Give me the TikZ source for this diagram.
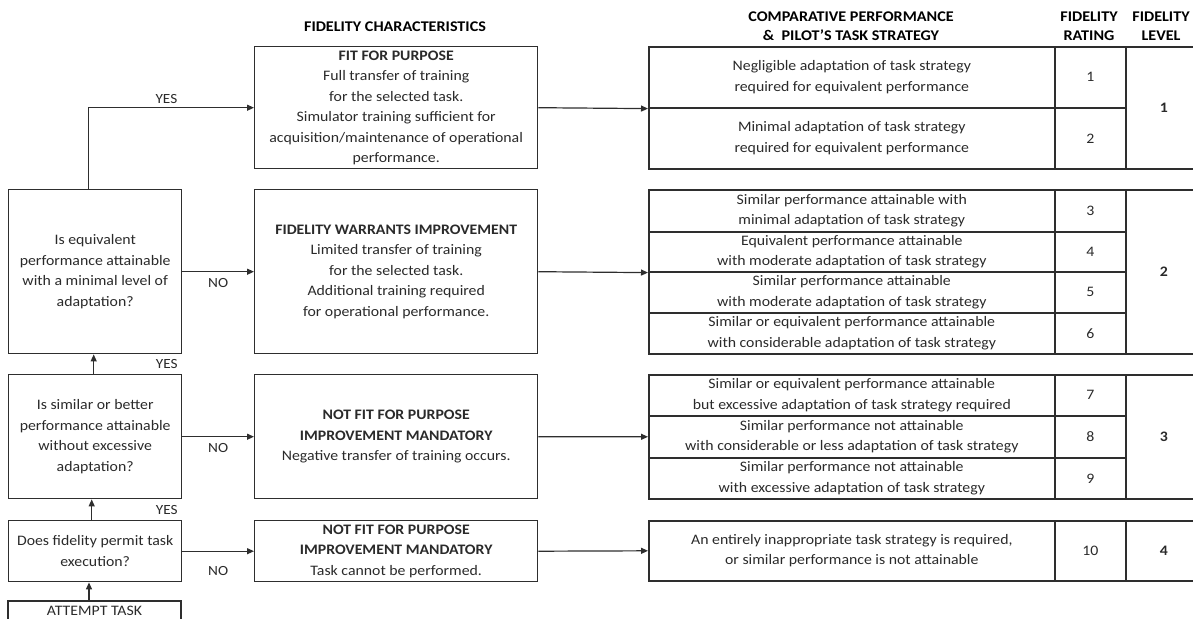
\documentclass[tikz,border=0pt]{standalone}
\usepackage{fontspec}
\setmainfont{Carlito}[FakeStretch=1.09]
\usetikzlibrary{arrows.meta}
\definecolor{linec}{HTML}{2E2E2E}
\definecolor{txt}{HTML}{2A2A2A}
\newcommand{\fsbody}{\fontsize{14.5}{20.5}\selectfont}
\newcommand{\fshead}{\fontsize{14.8}{19}\selectfont\bfseries}
\tikzset{
  box/.style={draw=linec, line width=1.4pt, align=center, anchor=north west, inner sep=0pt, text=txt, font=\fsbody},
  cellbox/.style={draw=linec, line width=1.6pt, align=center, anchor=north west, inner sep=0pt, text=txt, font=\fsbody},
  head/.style={align=center, text=black, font=\fshead, inner sep=0pt},
  lbl/.style={text=txt, font=\fontsize{14}{15}\selectfont, inner sep=0pt},
  arr/.style={-{Triangle[length=7pt,width=6pt]}, line width=1.2pt, draw=linec}
}
\begin{document}
\begin{tikzpicture}[x=1pt,y=-1pt]
\useasboundingbox (0,0) rectangle (1193,618);
\clip (0,0) rectangle (1193,618);
% headers
\node[head] (h1) at (395,27) {FIDELITY CHARACTERISTICS};
\node[head] (h2) at (851,26) {COMPARATIVE PERFORMANCE\\\&~~PILOT'S TASK STRATEGY};
\node[head] (h3) at (1089,26) {FIDELITY\\RATING};
\node[head] (h4) at (1161,26) {FIDELITY\\LEVEL};
% left column
\node[box, minimum width=173, minimum height=164] (q1) at (8,189) {Is equivalent\\performance attainable\\with a minimal level of\\adaptation?};
\node[box, minimum width=173, minimum height=124] (q2) at (8,374) {Is similar or better\\performance attainable\\without excessive\\adaptation?};
\node[box, minimum width=173, minimum height=61] (q3) at (8,520) {Does fidelity permit task\\execution?};
% attempt task box (cut by the lower edge)
\draw[draw=linec, line width=1.4pt] (8,625) |- (181,601) -- (181,625);
\coordinate (attop) at (89,601);
\node[text=txt, font=\fsbody, inner sep=0pt] (at) at (94.5,610.5) {ATTEMPT TASK};
% middle column
\node[box, minimum width=283, minimum height=122] (m1) at (254,46) {\textbf{FIT FOR PURPOSE}\\Full transfer of training\\for the selected task.\\Simulator training sufficient for\\acquisition/maintenance of operational\\performance.};
\node[box, minimum width=283, minimum height=164] (m2) at (254,189) {\textbf{FIDELITY WARRANTS IMPROVEMENT}\\Limited transfer of training\\for the selected task.\\Additional training required\\for operational performance.};
\node[box, minimum width=283, minimum height=124] (m3) at (254,374) {\textbf{NOT FIT FOR PURPOSE}\\\textbf{IMPROVEMENT MANDATORY}\\Negative transfer of training occurs.};
\node[box, minimum width=283, minimum height=61] (m4) at (254,520) {\textbf{NOT FIT FOR PURPOSE}\\\textbf{IMPROVEMENT MANDATORY}\\Task cannot be performed.};
% right table: description cells
\node[cellbox, minimum width=406, minimum height=61] (c1) at (648,46) {Negligible adaptation of task strategy\\required for equivalent performance};
\node[cellbox, minimum width=406, minimum height=61] (c2) at (648,107) {Minimal adaptation of task strategy\\required for equivalent performance};
\node[cellbox, minimum width=406, minimum height=42] (c3) at (648,189) {Similar performance attainable with\\minimal adaptation of task strategy};
\node[cellbox, minimum width=406, minimum height=40] (c4) at (648,231) {Equivalent performance attainable\\with moderate adaptation of task strategy};
\node[cellbox, minimum width=406, minimum height=41] (c5) at (648,271) {Similar performance attainable\\with moderate adaptation of task strategy};
\node[cellbox, minimum width=406, minimum height=41] (c6) at (648,312) {Similar or equivalent performance attainable\\with considerable adaptation of task strategy};
\node[cellbox, minimum width=406, minimum height=41] (c7) at (648,374) {Similar or equivalent performance attainable\\but excessive adaptation of task strategy required};
\node[cellbox, minimum width=406, minimum height=42] (c8) at (648,415) {Similar performance not attainable\\with considerable or less adaptation of task strategy};
\node[cellbox, minimum width=406, minimum height=41] (c9) at (648,457) {Similar performance not attainable\\with excessive adaptation of task strategy};
\node[cellbox, minimum width=406, minimum height=60] (c10) at (648,520) {An entirely inappropriate task strategy is required,\\or similar performance is not attainable};
% rating cells
\node[cellbox, minimum width=71, minimum height=61] (r1) at (1054,46) {1};
\node[cellbox, minimum width=71, minimum height=61] (r2) at (1054,107) {2};
\node[cellbox, minimum width=71, minimum height=42] (r3) at (1054,189) {3};
\node[cellbox, minimum width=71, minimum height=40] (r4) at (1054,231) {4};
\node[cellbox, minimum width=71, minimum height=41] (r5) at (1054,271) {5};
\node[cellbox, minimum width=71, minimum height=41] (r6) at (1054,312) {6};
\node[cellbox, minimum width=71, minimum height=41] (r7) at (1054,374) {7};
\node[cellbox, minimum width=71, minimum height=42] (r8) at (1054,415) {8};
\node[cellbox, minimum width=71, minimum height=41] (r9) at (1054,457) {9};
\node[cellbox, minimum width=71, minimum height=60] (r10) at (1054,520) {10};
% level cells
\node[cellbox, minimum width=76, minimum height=122, font=\fsbody\bfseries] (l1) at (1125,46) {1};
\node[cellbox, minimum width=76, minimum height=164, font=\fsbody\bfseries] (l2) at (1125,189) {2};
\node[cellbox, minimum width=76, minimum height=124, font=\fsbody\bfseries] (l3) at (1125,374) {3};
\node[cellbox, minimum width=76, minimum height=60, font=\fsbody\bfseries] (l4) at (1125,520) {4};
% connectors left column
\draw[arr] ([xshift=-6.5]q1.north) |- (m1.west) node[lbl, pos=0.735, above=4pt] (yes1) {YES};
\draw[arr] ([xshift=-1.5]q2.north) -- ([xshift=-1.5]q1.south) node[lbl, pos=0.5, xshift=73] (yes2) {YES};
\draw[arr] ([xshift=-3.5]q3.north) -- ([xshift=-3.5]q2.south) node[lbl, pos=0.5, xshift=75] (yes3) {YES};
\draw[arr] (attop) -- (attop |- q3.south);
\draw[arr] (q1.east) -- (m2.west) node[lbl, midway, below=6pt] (no1) {NO};
\draw[arr] (q2.east) -- (m3.west) node[lbl, midway, below=6pt] (no2) {NO};
\draw[arr] (q3.east) -- (m4.west) node[lbl, midway, below=15pt] (no3) {NO};
% connectors middle to table
\draw[arr] (m1.east) -- (c1.south west);
\draw[arr] (m2.east) -- (c4.south west);
\draw[arr] (m3.east) -- (c8.west);
\draw[arr] (m4.east) -- (c10.west);
\end{tikzpicture}
\end{document}
